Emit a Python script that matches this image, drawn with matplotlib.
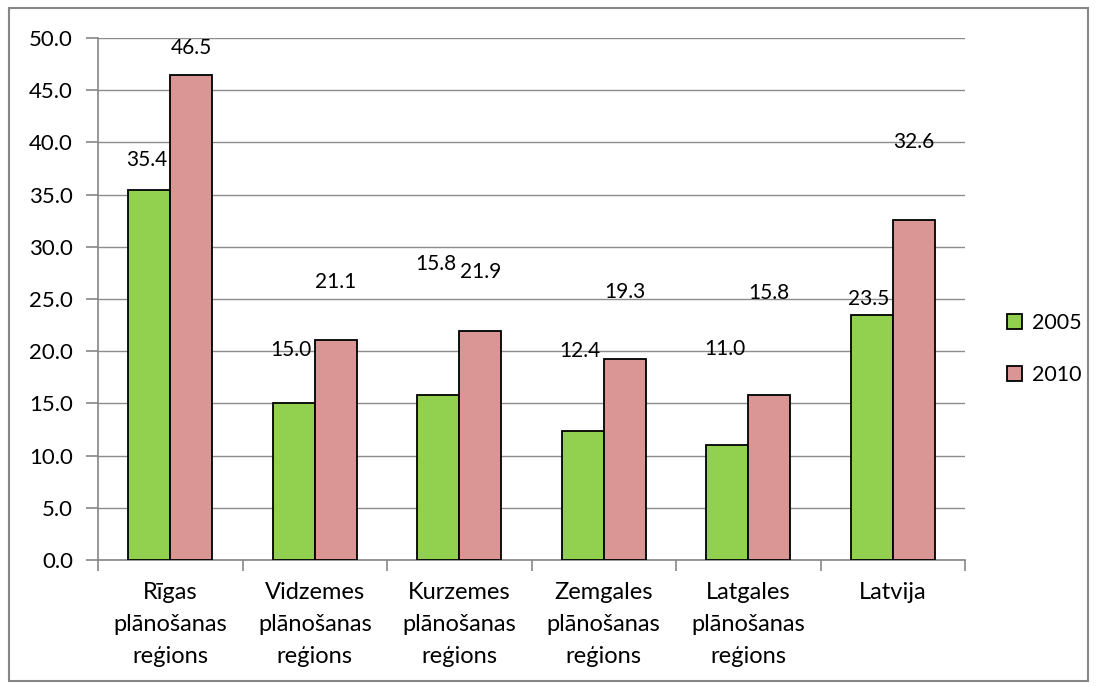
import matplotlib
matplotlib.use("Agg")
import matplotlib.pyplot as plt
import numpy as np
from matplotlib.patches import Rectangle

categories = ["Rīgas\nplānošanas\nreģions", "Vidzemes\nplānošanas\nreģions",
              "Kurzemes\nplānošanas\nreģions", "Zemgales\nplānošanas\nreģions",
              "Latgales\nplānošanas\nreģions", "Latvija"]
values_2005 = [35.4, 15.0, 15.8, 12.4, 11.0, 23.5]
values_2010 = [46.5, 21.1, 21.9, 19.3, 15.8, 32.6]
# label vertical positions (data units) as placed in the reference
label_y_2005 = [38.3, 20.1, 28.4, 20.0, 20.2, 25.0]
label_y_2010 = [49.0, 26.6, 27.6, 25.7, 25.6, 40.0]
yticks = [0, 5, 10, 15, 20, 25, 30, 35, 40, 45, 50]
series_names = ["2005", "2010"]

plt.rcParams['font.family'] = ['Lato', 'DejaVu Sans']

fig = plt.figure(figsize=(10.98, 6.87), dpi=100)
ax = fig.add_axes([98/1098, 1-560/687, (965-98)/1098, (560-38)/687])

green = "#92D050"
pink = "#D99694"
x = np.arange(len(categories))
w = 0.29
ax.bar(x - w/2, values_2005, w, color=green, edgecolor="black", linewidth=1.3, label=series_names[0], zorder=3)
ax.bar(x + w/2, values_2010, w, color=pink, edgecolor="black", linewidth=1.3, label=series_names[1], zorder=3)

for i in range(len(categories)):
    ax.text(x[i] - w/2 - 0.02, label_y_2005[i], f"{values_2005[i]:.1f}", ha="center", va="center", fontsize=15)
    ax.text(x[i] + w/2, label_y_2010[i], f"{values_2010[i]:.1f}", ha="center", va="center", fontsize=15)

ax.set_xlim(-0.5, len(categories) - 0.5)
ax.set_ylim(0, 50)
ax.set_yticks(yticks)
ax.set_yticklabels([f"{v:.1f}" for v in yticks], fontsize=16)
ax.yaxis.grid(True, color="#8c8c8c", linewidth=1.0, zorder=0)
ax.set_axisbelow(True)
ax.set_xticks(x)
ax.set_xticklabels(categories, fontsize=17, linespacing=1.65)
ax.set_xticks(np.arange(-0.5, len(categories)), minor=True)
ax.tick_params(axis="x", which="major", length=0, pad=16)
ax.tick_params(axis="x", which="minor", length=8, width=1.2, color="#868686", direction="out")
ax.tick_params(axis="y", length=9, width=1.2, color="#868686", direction="out", pad=9)
for s in ["top", "right"]:
    ax.spines[s].set_visible(False)
for s in ["left", "bottom"]:
    ax.spines[s].set_color("#868686")
    ax.spines[s].set_linewidth(1.2)

ax.legend(loc="center left", bbox_to_anchor=(1007/1098, 1-349/687), bbox_transform=fig.transFigure,
          frameon=False, fontsize=15.5, handlelength=0.7, handleheight=0.7, labelspacing=1.45,
          handletextpad=0.45, borderpad=0, borderaxespad=0)

fig.patches.append(Rectangle((9/1098, 6/687), (1088-9)/1098, (679-6)/687, transform=fig.transFigure,
                             fill=False, edgecolor="#868686", linewidth=1.5))

fig.savefig("out.png", dpi=100)
